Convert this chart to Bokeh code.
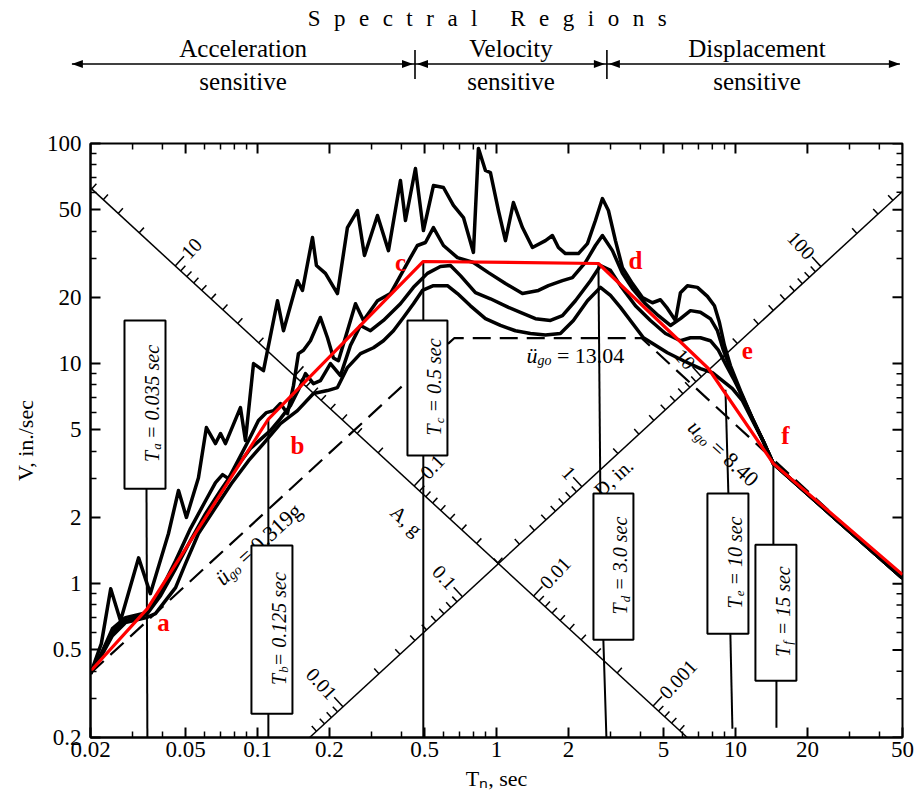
import math
from bokeh.plotting import figure
from bokeh.layouts import column
from bokeh.models import Range1d, FixedTicker, CustomJSTickFormatter, Div
from bokeh.core.properties import value
from bokeh.embed import file_html
from bokeh.resources import INLINE

SERIF = "Liberation Serif"

# ---------------- axes ----------------
T_MIN, T_MAX = 0.02, 50.0
V_MIN, V_MAX = 0.2, 100.0
x_major = [0.02, 0.05, 0.1, 0.2, 0.5, 1, 2, 5, 10, 20, 50]
x_minor = [0.03, 0.04, 0.06, 0.07, 0.08, 0.09, 0.3, 0.4, 0.6, 0.7, 0.8, 0.9,
           3, 4, 6, 7, 8, 9, 30, 40]
y_major = [0.2, 0.5, 1, 2, 5, 10, 20, 50, 100]
y_minor = [0.3, 0.4, 0.6, 0.7, 0.8, 0.9, 3, 4, 6, 7, 8, 9, 30, 40, 60, 70, 80, 90]

# ---------------- response spectra (zeta = 0, 2, 5, 10 %) ----------------
z0_T = [0.020, 0.0222, 0.0243, 0.0267, 0.0318, 0.0356, 0.0424, 0.0467, 0.0504, 0.0566,
        0.0611, 0.0667, 0.0700, 0.0734, 0.0848, 0.0890, 0.0962, 0.1059, 0.1212, 0.1284,
        0.1469, 0.1542, 0.1698, 0.1764, 0.1924, 0.2160, 0.2378, 0.2619, 0.2802, 0.3176,
        0.3531, 0.3963, 0.4159, 0.4579, 0.4945, 0.5446, 0.5998, 0.6604, 0.7274, 0.8007,
        0.8402, 0.8988, 0.9432, 1.019, 1.090, 1.177, 1.284, 1.414, 1.603, 1.714,
        1.816, 1.943, 2.202, 2.402, 2.594, 2.775, 2.940, 3.146, 3.365, 3.706,
        4.080, 4.493, 4.853, 5.192, 5.609, 5.885, 6.296, 6.930, 7.632, 8.165,
        8.565, 8.989, 9.524, 10.49, 11.78, 13.09, 14.41, 26.2, 50.0]
z0_V = [0.390, 0.534, 0.949, 0.679, 1.31, 0.901, 1.69, 2.65, 2.00, 3.03,
        5.12, 4.33, 4.81, 4.33, 6.31, 4.47, 10.0, 9.29, 19.3, 14.1,
        23.8, 21.5, 37.4, 27.9, 25.7, 20.8, 41.5, 49.6, 31.0, 47.1,
        32.6, 67.9, 44.7, 77.0, 40.2, 64.4, 63.1, 52.3, 46.1, 32.0,
        95.0, 75.4, 73.8, 49.6, 36.2, 53.9, 41.5, 33.7, 36.2, 38.2,
        33.7, 31.6, 31.6, 35.1, 44.7, 56.2, 49.6, 36.2, 27.3, 23.1,
        19.95, 18.9, 19.5, 17.8, 15.7, 21.0, 22.6, 22.2, 20.2, 18.3,
        15.4, 12.1, 9.79, 7.54, 5.62, 4.42, 3.51, 1.97, 1.06]

z2_T = [0.020, 0.0220, 0.0247, 0.0280, 0.0343, 0.0393, 0.0454, 0.0524, 0.0606, 0.0667,
        0.0714, 0.0756, 0.0808, 0.0917, 0.1009, 0.1090, 0.1166, 0.1247, 0.1334, 0.1414,
        0.1483, 0.1557, 0.1665, 0.1833, 0.1962, 0.2078, 0.218, 0.2378, 0.257, 0.2775,
        0.3176, 0.3599, 0.3963, 0.4363, 0.4668, 0.5042, 0.5446, 0.5998, 0.6866, 0.8007,
        0.9253, 1.090, 1.284, 1.498, 1.649, 1.888, 2.078, 2.356, 2.594, 2.775,
        3.056, 3.365, 3.706, 4.200, 4.761, 5.345, 5.885, 6.480, 7.134, 7.855,
        8.404, 8.901, 9.524, 10.49, 11.78, 13.09, 14.41, 26.2, 50.0]
z2_V = [0.390, 0.471, 0.625, 0.701, 0.738, 0.929, 1.27, 1.78, 2.38, 2.88,
        3.13, 3.00, 3.44, 4.47, 5.51, 5.99, 6.11, 6.58, 5.93, 7.94,
        11.1, 11.5, 12.7, 16.2, 13.1, 10.6, 10.3, 14.1, 18.7, 15.7,
        19.3, 20.8, 25.1, 30.3, 34.4, 35.5, 41.5, 34.4, 30.3, 28.8,
        25.9, 23.1, 20.8, 21.5, 22.6, 23.8, 24.6, 28.8, 34.4, 38.2,
        32.6, 25.7, 21.9, 18.7, 16.5, 14.9, 16.0, 17.4, 17.1, 16.0,
        14.1, 11.5, 9.49, 7.38, 5.62, 4.42, 3.51, 1.97, 1.06]

z5_T = [0.020, 0.0220, 0.0247, 0.0280, 0.0343, 0.0393, 0.0454, 0.0524, 0.0606, 0.0700,
        0.0808, 0.0934, 0.1049, 0.1132, 0.1247, 0.1373, 0.1512, 0.1587, 0.1714, 0.1833,
        0.2019, 0.2223, 0.2448, 0.2696, 0.2969, 0.3364, 0.3963, 0.4492, 0.5140, 0.5826,
        0.6417, 0.7066, 0.8163, 0.9432, 1.122, 1.259, 1.455, 1.682, 1.888, 2.139,
        2.473, 2.722, 2.998, 3.301, 3.814, 4.407, 5.093, 5.885, 6.480, 7.134,
        7.855, 8.482, 9.164, 9.804, 10.69, 11.78, 13.09, 14.41, 26.2, 50.0]
z5_V = [0.390, 0.471, 0.599, 0.679, 0.723, 0.882, 1.17, 1.57, 2.08, 2.65,
        3.33, 4.11, 4.61, 4.96, 5.62, 6.44, 7.94, 9.01, 8.11, 8.37,
        10.0, 8.82, 12.1, 14.9, 14.1, 15.7, 18.7, 22.2, 25.7, 27.6,
        27.9, 25.1, 21.0, 19.7, 18.0, 17.1, 16.0, 15.7, 16.5, 19.3,
        23.8, 27.9, 26.5, 22.6, 18.3, 15.7, 13.7, 12.7, 13.1, 13.1,
        12.7, 11.5, 9.79, 8.55, 7.08, 5.62, 4.42, 3.51, 1.97, 1.06]

z10_T = [0.020, 0.0220, 0.0247, 0.0280, 0.0343, 0.0374, 0.0412, 0.0454, 0.0499, 0.0566,
         0.0667, 0.0778, 0.0917, 0.1059, 0.1247, 0.1469, 0.1714, 0.1962, 0.2160, 0.2378,
         0.2696, 0.3056, 0.3364, 0.3705, 0.4079, 0.4492, 0.4898, 0.5446, 0.6233, 0.6866,
         0.7780, 0.8988, 1.039, 1.200, 1.387, 1.603, 1.851, 2.098, 2.402, 2.722,
         2.998, 3.301, 4.120, 5.192, 6.058, 7.134, 8.008, 8.817, 9.710, 10.69,
         11.78, 13.09, 14.41, 26.2, 50.0]
z10_V = [0.390, 0.461, 0.580, 0.665, 0.701, 0.731, 0.837, 0.959, 1.23, 1.69,
         2.22, 2.85, 3.62, 4.33, 5.34, 6.11, 7.31, 7.54, 7.78, 9.59,
         11.1, 11.8, 12.7, 14.1, 16.2, 18.7, 21.5, 22.6, 22.6, 20.8,
         18.3, 16.0, 14.9, 14.1, 13.7, 13.5, 13.7, 15.7, 19.3, 22.2,
         20.4, 18.0, 13.1, 11.2, 10.3, 9.49, 9.10, 8.37, 7.70, 6.79,
         5.51, 4.42, 3.51, 1.97, 1.06]

# ---------------- idealized spectrum (red) ----------------
red_T = [0.02, 0.0346, 0.111, 0.494, 2.67, 7.7, 14.41, 50.0]
red_V = [0.40, 0.77, 5.6, 29.1, 28.5, 9.5, 3.51, 1.10]
red_names = ["a", "b", "c", "d", "e", "f"]
red_label_T = [0.0404, 0.1469, 0.3963, 3.814, 11.22, 16.18]
red_label_V = [0.665, 4.24, 28.8, 29.4, 11.46, 4.71]

# ---------------- ground-motion bounds (dashed) ----------------
dash_T = [0.02, 0.665, 4.05, 50.0]
dash_V = [0.392, 13.04, 13.04, 1.056]
acc_label_T, acc_label_V = 0.096, 1.60
vel_label_T, vel_label_V = 2.139, 11.8
disp_label_T, disp_label_V = 9.34, 4.15

# ---------------- period markers with boxes ----------------
period_sub = ["a", "b", "c", "d", "e", "f"]
period_rest = [" = 0.035 sec", "= 0.125 sec", " = 0.5 sec", " = 3.0 sec", " = 10 sec", " = 15 sec"]
box_left_T = [0.02775, 0.0943, 0.424, 2.545, 7.632, 12.12]
box_right_T = [0.0412, 0.140, 0.6233, 3.741, 11.33, 17.99]
box_top_V = [15.7, 1.49, 15.7, 2.566, 2.566, 1.504]
box_bottom_V = [2.70, 0.2565, 3.82, 0.5565, 0.5925, 0.3623]
upper_T0 = [0.111, 0.494, 2.67, 9.08, 14.41]
upper_V0 = [5.6, 29.1, 28.5, 7.6, 3.51]
upper_T1 = [0.111, 0.494, 2.72, 9.34, 14.41]
upper_V1 = [1.49, 15.7, 2.566, 2.566, 1.504]
lower_T0 = [0.0343, 0.111, 0.494, 2.80, 9.52, 14.84]
lower_V0 = [2.70, 0.2565, 3.82, 0.5565, 0.5925, 0.3623]
lower_T1 = [0.0346, 0.111, 0.494, 2.884, 9.71, 14.84]
lower_V1 = [0.2, 0.2, 0.2, 0.2, 0.219, 0.2215]

# ---------------- tripartite scales ----------------
G = 386.1                 # in/s^2
A_AXIS_D = 0.2            # in : constant-D line that carries the A scale
D_AXIS_A = 0.0197         # g  : constant-A line that carries the D scale
A_labels = [10, 0.1, 0.01, 0.001]
A_label_text = ["10", "0.1", "0.01", "0.001"]
D_labels = [0.01, 0.1, 1, 10, 100]
D_label_text = ["0.01", "0.1", "1", "10", "100"]
Ag_T, Ag_V = 0.42, 1.934
Din_T, Din_V = 3.086, 3.03

# ---------------- header (spectral regions) ----------------
region_edge_T = [0.0168, 0.458, 2.91, 49.0]
region_center_T = [0.0874, 1.155, 12.36]
region_word = ["Acceleration", "Velocity", "Displacement"]
title_center_T = 0.916

# ================= layout =================
FRAME_W, FRAME_H = 812, 594
LEFT_B = 90
HEAD_H = 125
TOP_B = 143 - HEAD_H
px_x = FRAME_W / math.log10(T_MAX / T_MIN)
px_y = FRAME_H / math.log10(V_MAX / V_MIN)
norm = math.hypot(px_x, px_y)
line_ang = math.atan2(px_y, px_x)      # screen angle of slope +1 lines
perp_ang = math.atan2(px_x, px_y)


def fx(T):
    return LEFT_B + (math.log10(T) - math.log10(T_MIN)) * px_x


CW = {' ': .25, '\u00a0': .25, '=': .564, '.': .25, ',': .25, '/': .278,
      'T': .611, 'a': .444, 'b': .5, 'c': .444, 'd': .5, 'e': .444, 'f': .333,
      'g': .5, 'i': .278, 'n': .5, 'o': .5, 's': .389, 'u': .5, '\u00fc': .5,
      'A': .722, 'D': .722, 'V': .722, 'l': .278, 'r': .333, 'p': .5, 't': .278}


def tw(s, size):
    return sum(CW.get(ch, 0.5) for ch in s) * size


def txt(fig, T, V, s, size, style="normal", color="black", angle=0.0,
        align="left", baseline="alphabetic", xo=0.0, yo=0.0):
    fig.text(x=[T], y=[V], text=[s], angle=angle, x_offset=xo, y_offset=yo,
             text_font=value(SERIF), text_font_size=f"{size}px",
             text_font_style=style, text_color=color,
             text_align=align, text_baseline=baseline)


def rich(fig, T, V, pieces, angle):
    dx, dy = math.cos(angle), -math.sin(angle)
    nx, ny = math.sin(angle), math.cos(angle)
    total = sum(tw(s, sz) for s, sz, st, sh in pieces)
    main = max(sz for s, sz, st, sh in pieces)
    pos = -total / 2
    for s, sz, st, sh in pieces:
        lead = len(s) - len(s.lstrip(' '))
        pos += lead * 0.25 * sz
        core = s.strip(' ')
        shift = sh + 0.33 * main
        txt(fig, T, V, core, sz, style=st, angle=angle,
            xo=pos * dx + shift * nx, yo=pos * dy + shift * ny)
        pos += tw(core, sz)


# ---------------- header: spectral regions (inline SVG) ----------------
def svg_text(x, y, size, s, extra=""):
    return (f'<text x="{x:.1f}" y="{y}" text-anchor="middle" dominant-baseline="central" '
            f'style="font-family: \'{SERIF}\', serif; font-size: {size}px; fill: black;{extra}">{s}</text>')


svg = [f'<svg xmlns="http://www.w3.org/2000/svg" width="912" height="{HEAD_H}" style="display:block">']
svg.append(svg_text(fx(title_center_T) + 7, 18, 23, "Spectral Regions", " letter-spacing: 13.5px;"))
for t, w in zip(region_center_T, region_word):
    svg.append(svg_text(fx(t), 48, 25, w))
    svg.append(svg_text(fx(t), 81, 25, "sensitive"))
AY = 64
svg.append(f'<line x1="{fx(region_edge_T[0]):.1f}" y1="{AY}" x2="{fx(region_edge_T[-1]):.1f}" y2="{AY}" '
           f'stroke="black" stroke-width="1.6"/>')
for i in range(3):
    xl, xr = fx(region_edge_T[i]) + (0 if i == 0 else 2), fx(region_edge_T[i + 1]) - (0 if i == 2 else 2)
    svg.append(f'<polygon points="{xl:.1f},{AY} {xl + 11:.1f},{AY - 4} {xl + 11:.1f},{AY + 4}" fill="black"/>')
    svg.append(f'<polygon points="{xr:.1f},{AY} {xr - 11:.1f},{AY - 4} {xr - 11:.1f},{AY + 4}" fill="black"/>')
for t in region_edge_T[1:3]:
    svg.append(f'<line x1="{fx(t):.1f}" y1="50" x2="{fx(t):.1f}" y2="79" stroke="black" stroke-width="1.6"/>')
svg.append('</svg>')
header = Div(text="".join(svg), width=912, height=HEAD_H, margin=0)

# ---------------- main figure ----------------
p = figure(x_axis_type="log", y_axis_type="log",
           x_range=Range1d(T_MIN, T_MAX), y_range=Range1d(V_MIN, V_MAX),
           frame_width=FRAME_W, frame_height=FRAME_H,
           min_border_left=LEFT_B, min_border_right=12, min_border_top=TOP_B, min_border_bottom=50,
           toolbar_location=None, output_backend="svg",
           outline_line_color="black", outline_line_width=2)
p.grid.visible = False


def style_axis(ax, major, minor):
    ax.ticker = FixedTicker(ticks=major, minor_ticks=minor)
    ax.major_tick_in, ax.major_tick_out = 10, 0
    ax.minor_tick_in, ax.minor_tick_out = 6, 0
    ax.axis_line_width = 2
    ax.major_tick_line_width = 2
    ax.minor_tick_line_width = 1.5
    ax.axis_line_color = ax.major_tick_line_color = ax.minor_tick_line_color = "black"
    ax.formatter = CustomJSTickFormatter(code="return tick.toString();")
    ax.major_label_text_font = SERIF
    ax.major_label_text_font_size = "23px"
    ax.major_label_text_color = "black"
    ax.axis_label_text_font = SERIF
    ax.axis_label_text_font_size = "22px"
    ax.axis_label_text_font_style = "normal"
    ax.axis_label_text_color = "black"
    ax.axis_label_standoff = 6


xa, ya = p.below[0], p.left[0]
style_axis(xa, x_major, x_minor)
style_axis(ya, y_major, y_minor)
xa.major_label_standoff = 4
ya.major_label_standoff = 9
xa.axis_label = "T\u2099, sec"
ya.axis_label = "V, in./sec"

# inward ticks on the top and right edges of the frame
for ticks, L, w in [(x_major, 10, 2), (x_minor, 6, 1.5)]:
    p.segment(x0=ticks, y0=[V_MAX] * len(ticks), x1=ticks,
              y1=[V_MAX * 10 ** (-L / px_y)] * len(ticks), line_color="black", line_width=w)
for ticks, L, w in [(y_major, 10, 2), (y_minor, 6, 1.5)]:
    p.segment(x0=[T_MAX] * len(ticks), y0=ticks, x1=[T_MAX * 10 ** (-L / px_x)] * len(ticks),
              y1=ticks, line_color="black", line_width=w)

# ---- tripartite A scale (descending line) ----
aT_end = 2 * math.pi * A_AXIS_D / V_MIN
p.line([T_MIN, aT_end], [2 * math.pi * A_AXIS_D / T_MIN, V_MIN], line_color="black", line_width=1.5)


def a_point(A):
    T = 2 * math.pi * math.sqrt(A_AXIS_D / (A * G))
    return T, 2 * math.pi * A_AXIS_D / T


def d_point(D):
    a0 = D_AXIS_A * G
    T = 2 * math.pi * math.sqrt(D / a0)
    return T, a0 * T / (2 * math.pi)


x0s, y0s, x1s, y1s = [], [], [], []
for k in range(-4, 2):
    for m in range(1, 10):
        A = m * 10 ** k
        T, V = a_point(A)
        if T_MIN <= T <= aT_end and V_MIN <= V <= V_MAX:
            L = 13 if m == 1 else 7
            x0s.append(T); y0s.append(V)
            x1s.append(T * 10 ** (L * px_y / norm / px_x))
            y1s.append(V * 10 ** (L * px_x / norm / px_y))
p.segment(x0=x0s, y0=y0s, x1=x1s, y1=y1s, line_color="black", line_width=1.5)
for A, s in zip(A_labels, A_label_text):
    T, V = a_point(A)
    txt(p, T, V, s, 20, angle=perp_ang, align="left", baseline="middle",
        xo=14 * px_y / norm, yo=-14 * px_x / norm)
txt(p, Ag_T, Ag_V, "A, g", 20, angle=-line_ang, align="center", baseline="middle")

# ---- tripartite D scale (ascending line) ----
a0 = D_AXIS_A * G
dT_start = 2 * math.pi * V_MIN / a0
p.line([dT_start, T_MAX], [V_MIN, a0 * T_MAX / (2 * math.pi)], line_color="black", line_width=1.5)
x0s, y0s, x1s, y1s = [], [], [], []
for k in range(-3, 3):
    for m in range(1, 10):
        D = m * 10 ** k
        T, V = d_point(D)
        if dT_start <= T <= T_MAX and V_MIN <= V <= V_MAX:
            L = 13 if m == 1 else 7
            x0s.append(T); y0s.append(V)
            x1s.append(T * 10 ** (-L * px_y / norm / px_x))
            y1s.append(V * 10 ** (L * px_x / norm / px_y))
p.segment(x0=x0s, y0=y0s, x1=x1s, y1=y1s, line_color="black", line_width=1.5)
for D, s in zip(D_labels, D_label_text):
    T, V = d_point(D)
    txt(p, T, V, s, 20, angle=-perp_ang, align="right", baseline="middle",
        xo=-14 * px_y / norm, yo=-14 * px_x / norm)
txt(p, Din_T, Din_V, "D, in.", 20, angle=line_ang, align="center", baseline="middle")

# ---- dashed bounds and their labels ----
p.line(dash_T, dash_V, line_color="black", line_width=2.2, line_dash="18 9")
rich(p, acc_label_T, acc_label_V,
     [("\u00fc", 22, "italic", 0), ("go", 14, "italic", 5), (" = 0.319g", 22, "normal", 0)], line_ang)
rich(p, vel_label_T, vel_label_V,
     [("\u00fc", 22, "italic", 0), ("go", 14, "italic", 5), (" = 13.04", 22, "normal", 0)], 0.0)
rich(p, disp_label_T, disp_label_V,
     [("u", 22, "italic", 0), ("go", 14, "italic", 5), (" = 8.40", 22, "normal", 0)], -line_ang)

# ---- period lines and boxes ----
p.segment(x0=upper_T0, y0=upper_V0, x1=upper_T1, y1=upper_V1, line_color="black", line_width=2)
p.segment(x0=lower_T0, y0=lower_V0, x1=lower_T1, y1=lower_V1, line_color="black", line_width=2)
p.quad(left=box_left_T, right=box_right_T, top=box_top_V, bottom=box_bottom_V,
       fill_color="white", line_color="black", line_width=2)
for i in range(6):
    tc = math.sqrt(box_left_T[i] * box_right_T[i])
    vc = math.sqrt(box_top_V[i] * box_bottom_V[i])
    rich(p, tc, vc, [("T", 20, "italic", 0), (period_sub[i], 13, "italic", 5),
                     (period_rest[i], 20, "italic", 0)], math.pi / 2)

# ---- spectra ----
for T, V in [(z0_T, z0_V), (z2_T, z2_V), (z5_T, z5_V), (z10_T, z10_V)]:
    p.line(T, V, line_color="black", line_width=3.5, line_join="round")

# ---- idealized spectrum ----
p.line(red_T, red_V, line_color="#ff0000", line_width=3.2, line_join="round")
for t, v, s in zip(red_label_T, red_label_V, red_names):
    txt(p, t, v, s, 25, style="bold", color="#ff0000", align="center", baseline="middle")

open("out.html", "w").write(file_html(column(header, p), INLINE))
